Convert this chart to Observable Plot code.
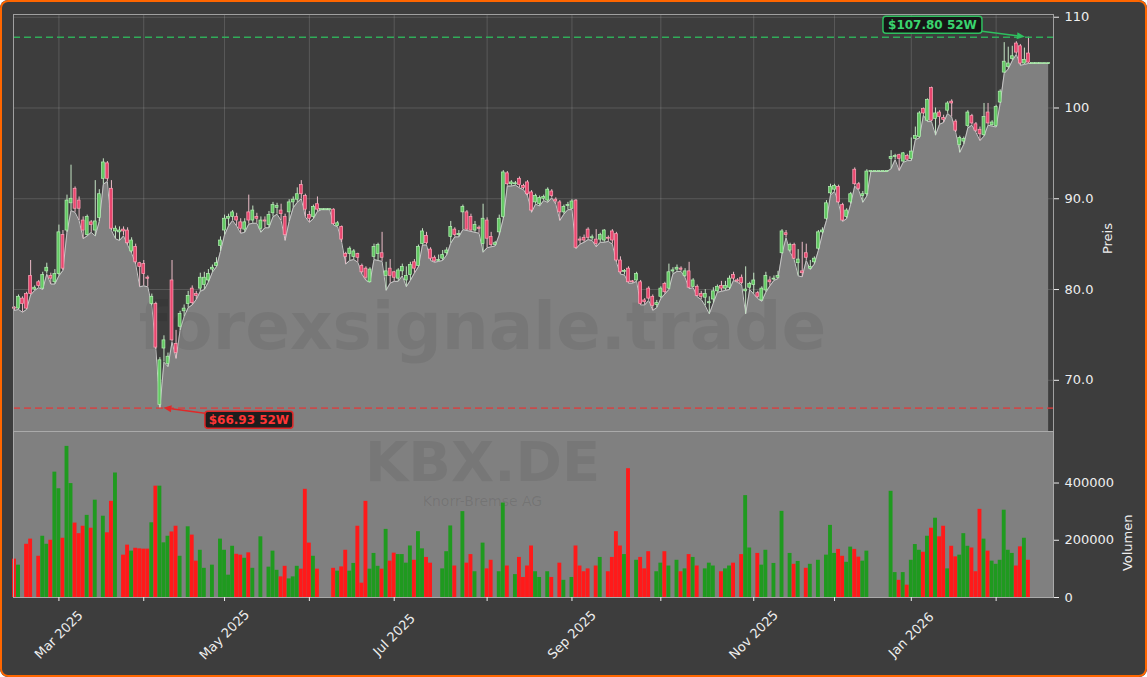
<!DOCTYPE html>
<html><head><meta charset="utf-8">
<script src="https://cdn.jsdelivr.net/npm/d3@7"></script>
<script src="https://cdn.jsdelivr.net/npm/@observablehq/plot@0.6"></script>
<style>
html,body{margin:0;padding:0;background:#ffffff;}
#card{position:relative;width:1147px;height:677px;background:#3d3d3d;border-radius:8px;overflow:hidden;font-family:"DejaVu Sans",sans-serif;}
#price,#vol{position:absolute;left:0;}
#price{top:0;} #vol{top:431px;}
#border{position:absolute;left:0;top:0;width:1147px;height:677px;box-sizing:border-box;border:2.5px solid #ff6600;border-radius:8px;pointer-events:none;}
svg{overflow:visible;}
</style></head>
<body><div id="card"><div id="price"></div><div id="vol"></div><div id="border"></div></div>
<script>
// ---------- data (one entry per trading day, starting 2025-02-14) ----------
const startDate = "2025-02-14";
const holidays = ["2025-04-18","2025-04-21","2025-05-01","2025-12-24","2025-12-25","2025-12-26","2025-12-31","2026-01-01"];

const opens = [78.0,77.9,79.0,79.5,81.5,80.0,80.8,80.1,82.0,81.5,
80.8,81.7,86.0,86.5,89.5,91.1,89.8,87.6,86.0,87.4,
86.5,87.9,92.2,93.9,91.1,86.4,86.3,86.6,86.5,84.2,
84.7,82.9,82.8,81.3,78.4,78.4,67.3,73.5,71.8,81.0,
74.0,75.9,77.6,78.4,80.1,79.5,80.1,80.5,81.0,82.2,
82.6,84.8,86.5,87.8,88.0,88.0,87.4,86.6,88.5,87.6,
88.0,86.7,87.6,87.1,88.4,89.0,88.7,88.0,88.5,89.6,
89.9,91.5,90.3,88.2,88.0,89.4,88.8,88.8,88.8,88.8,
87.0,86.9,83.9,83.9,83.6,83.9,82.6,82.3,80.8,83.6,
83.9,84.0,81.5,82.3,81.9,81.2,82.0,81.0,81.6,83.0,
82.6,85.0,85.9,84.4,83.5,83.2,83.4,84.0,85.8,86.6,
86.0,88.5,88.5,88.0,86.5,86.8,85.0,87.6,85.8,84.9,
86.3,88.0,92.8,91.6,91.6,92.2,91.4,91.8,90.7,89.6,
89.4,90.0,89.8,90.8,89.9,89.6,88.5,89.2,88.9,89.8,
85.5,85.7,86.6,85.7,85.5,85.5,85.4,85.7,86.4,86.1,
83.2,82.0,82.3,80.9,81.0,80.8,78.8,80.1,79.2,78.3,
79.2,80.6,80.1,82.0,82.2,82.3,81.5,82.0,80.3,80.3,
79.5,79.1,78.5,78.9,79.8,80.4,80.1,80.2,81.6,81.0,
81.3,79.8,80.2,80.5,79.6,78.8,79.9,81.0,81.1,81.3,
84.0,86.2,84.3,84.9,82.9,82.0,84.0,82.3,83.0,84.5,
86.3,87.8,90.6,91.0,91.3,89.3,88.0,89.6,93.2,91.6,
90.3,90.5,93.0,93.0,93.0,93.0,93.0,94.4,94.6,94.8,
94.1,94.7,94.4,96.6,96.8,99.9,98.6,102.2,98.8,99.5,
98.9,99.7,100.7,98.5,95.9,96.3,98.0,99.1,98.2,97.6,
97.0,99.5,98.1,98.0,100.6,103.9,104.5,105.4,107.1,106.8,
104.9,106.0,104.9,104.9,104.9,104.9,104.9];

const highs = [78.1,79.4,79.2,79.7,83.2,80.4,81.0,81.9,82.9,81.8,
82.2,87.1,86.5,90.4,93.7,91.3,90.2,88.0,88.2,87.6,
92.0,91.0,94.4,94.1,92.0,87.0,86.9,86.9,86.8,85.7,
85.0,83.0,83.2,81.5,79.5,78.6,72.5,74.9,73.0,83.2,
75.5,77.6,78.3,79.8,80.4,79.8,81.8,81.9,82.2,82.7,
83.5,85.8,88.2,88.3,88.7,88.4,87.8,87.8,90.4,89.2,
88.4,88.0,88.0,88.6,89.6,89.5,89.4,88.3,89.9,90.2,
91.2,92.0,90.5,88.6,89.3,90.2,88.8,88.8,88.8,88.9,
87.5,87.0,84.1,84.7,84.4,84.0,82.8,82.5,82.4,85.0,
85.1,86.3,83.0,83.3,82.0,82.3,82.8,82.5,83.0,83.3,
84.9,86.7,86.3,84.6,83.7,83.8,84.3,84.6,87.5,86.8,
86.5,89.3,88.7,88.3,87.5,87.0,89.4,87.9,86.3,85.3,
88.2,93.1,93.0,92.0,91.9,92.4,91.6,92.0,90.9,90.5,
90.3,90.4,91.2,91.0,90.1,89.8,89.3,89.6,89.9,89.9,
85.8,86.0,86.8,86.0,86.6,86.2,86.6,85.9,86.6,86.3,
83.6,82.2,82.5,81.0,81.9,81.0,79.0,80.3,79.4,78.8,
80.3,80.8,82.8,82.4,82.7,82.5,82.3,83.0,81.2,80.5,
79.8,80.0,79.2,80.2,80.5,80.9,80.9,81.5,81.9,81.2,
81.6,82.5,80.8,81.8,79.8,80.3,81.9,81.4,81.5,82.0,
86.6,86.5,85.1,85.1,84.4,85.2,85.0,83.2,83.6,86.5,
86.8,89.8,91.6,91.6,91.5,89.5,88.9,90.7,93.4,91.8,
90.8,93.2,93.0,93.0,93.0,93.0,93.0,95.3,94.9,94.9,
95.1,94.9,96.7,97.9,99.6,100.0,101.0,102.3,100.0,99.7,
99.2,100.7,100.9,98.7,96.9,96.8,99.7,99.3,98.4,97.9,
100.5,100.5,98.6,100.3,102.0,107.2,106.7,106.8,107.3,107.0,
106.6,107.8,104.9,104.9,104.9,104.9,104.9];

const lows = [77.7,77.8,77.5,77.8,79.4,79.9,80.2,80.0,81.7,80.6,
80.6,81.5,82.1,86.3,88.7,88.5,87.6,85.6,85.9,86.3,
85.9,87.5,91.6,91.9,86.5,85.6,85.4,85.9,84.9,84.0,
82.8,80.3,80.4,80.3,78.2,73.4,66.93,72.0,71.5,74.2,
72.4,75.5,77.0,78.0,78.3,78.9,79.8,80.0,80.8,81.9,
82.5,84.2,86.0,87.0,87.6,87.0,86.2,86.3,87.2,87.3,
87.3,86.3,86.8,86.8,88.0,88.3,87.6,85.4,87.5,89.0,
89.6,90.0,88.0,87.4,87.8,88.6,88.8,88.8,88.8,87.1,
86.9,85.2,82.8,83.2,83.3,83.0,81.7,81.0,80.8,83.3,
83.2,83.1,79.9,80.7,80.9,80.9,81.5,80.3,81.0,81.8,
82.5,84.9,84.9,83.2,83.0,83.1,83.2,83.8,85.1,85.8,
85.8,86.6,86.5,86.4,86.3,86.2,84.1,84.6,84.7,84.8,
86.0,87.8,91.4,91.4,91.5,91.2,91.0,90.3,88.5,89.4,
89.2,89.8,89.6,90.1,89.4,87.6,88.3,88.8,88.8,84.5,
85.0,85.2,85.5,85.4,84.7,85.2,85.2,85.3,85.0,83.0,
81.7,81.6,80.7,80.7,80.9,78.3,78.3,78.8,77.7,78.0,
79.0,79.5,80.0,81.7,82.0,82.0,81.3,80.1,80.2,79.2,
78.9,78.2,77.3,78.5,79.7,79.8,79.9,80.0,81.0,80.8,
80.5,77.3,80.0,79.5,79.0,78.7,79.7,80.4,81.0,81.2,
83.9,85.7,84.1,83.3,81.5,81.4,83.2,82.2,82.8,84.3,
86.1,87.6,90.4,90.8,89.5,87.5,87.8,89.4,91.4,90.9,
89.6,90.3,93.0,93.0,93.0,93.0,93.0,93.3,94.3,93.1,
94.0,94.2,94.2,96.5,96.7,99.2,98.5,98.5,97.0,98.2,
98.4,99.4,99.0,97.3,95.1,96.0,97.8,98.1,97.3,96.4,
96.9,98.1,98.0,97.9,100.5,103.8,104.3,105.2,105.9,104.7,
104.8,104.9,104.9,104.9,104.9,104.9,104.9];

const closes = [77.9,79.2,78.4,77.9,79.5,80.2,80.4,81.6,82.4,81.2,
81.7,86.3,82.3,89.8,90.0,88.9,88.9,86.5,88.0,87.1,
87.5,90.5,94.0,92.2,86.7,86.7,86.5,86.4,85.1,85.4,
83.0,82.5,81.7,81.2,79.2,73.6,72.2,74.4,72.6,74.4,
73.0,77.3,77.9,79.3,78.5,79.3,81.3,81.3,81.7,82.4,
82.9,85.4,87.8,88.0,88.5,87.6,86.7,87.4,87.6,88.7,
87.8,87.6,87.5,88.2,89.3,89.2,88.3,86.0,89.6,89.9,
90.5,90.5,88.8,87.8,89.1,88.8,88.8,88.8,88.8,87.2,
87.3,85.5,83.6,84.5,84.2,83.5,81.9,81.3,82.2,84.7,
84.9,83.5,82.0,81.5,81.3,82.1,82.5,81.5,82.7,82.3,
84.7,86.4,85.1,83.4,83.1,83.2,83.8,84.3,86.9,86.0,
86.1,89.1,86.6,86.5,87.1,86.7,87.8,85.6,84.9,85.1,
87.8,92.9,91.6,91.8,91.7,91.5,91.2,90.5,88.7,90.3,
90.1,90.2,91.0,90.3,89.7,88.5,89.1,89.3,89.7,84.6,
85.4,85.4,85.7,85.7,85.0,86.0,86.5,85.6,85.4,83.2,
81.9,82.0,80.8,80.8,81.7,78.4,78.6,79.0,78.2,78.5,
80.1,79.7,81.9,82.1,82.4,82.2,82.0,80.2,81.0,79.3,
79.2,79.5,78.6,79.8,80.3,80.1,80.4,81.2,81.2,80.9,
80.7,80.0,80.6,81.0,79.2,80.1,81.5,80.8,81.2,81.5,
86.4,86.0,84.9,83.4,83.3,81.8,83.5,82.5,83.4,86.3,
86.5,89.5,91.3,91.4,89.6,87.6,88.7,90.5,91.6,91.1,
90.5,93.0,93.0,93.0,93.0,93.0,93.0,94.6,94.7,94.4,
95.0,94.3,95.2,96.9,99.4,99.4,100.9,98.6,99.4,99.0,
98.7,100.5,100.5,97.5,96.7,96.6,99.5,98.3,97.5,97.1,
99.0,98.3,98.4,100.1,101.8,105.1,104.9,105.7,106.1,104.9,
105.3,105.0,104.9,104.9,104.9,104.9,104.9];

const volumes = [134000,113000,0,186000,204000,0,144000,214000,186000,200000,
438000,380000,207000,528000,398000,260000,223000,249000,287000,242000,
340000,0,284000,226000,336000,435000,0,148000,183000,162000,
172000,170000,169000,169000,261000,389000,389000,191000,214000,229000,
249000,144000,0,247000,218000,127000,165000,102000,0,113000,
0,204000,165000,78000,179000,151000,148000,137000,156000,102000,
0,212000,0,106000,162000,95000,72000,109000,65000,72000,
109000,99000,378000,190000,144000,99000,0,0,0,102000,
92000,107000,165000,92000,119000,249000,50000,336000,99000,154000,
109000,99000,238000,127000,155000,150000,150000,120000,180000,130000,
230000,170000,140000,120000,0,0,100000,160000,250000,110000,
0,300000,120000,150000,90000,0,190000,100000,130000,0,
90000,330000,110000,0,80000,140000,70000,110000,180000,90000,
70000,0,90000,70000,0,120000,60000,0,70000,180000,
110000,90000,100000,0,110000,140000,0,90000,140000,230000,
180000,150000,450000,0,130000,140000,100000,160000,0,90000,
120000,160000,110000,0,130000,90000,100000,150000,140000,110000,
0,100000,120000,110000,0,90000,100000,110000,120000,0,
150000,356000,173000,0,154000,113000,165000,0,119000,0,
301000,0,154000,116000,126000,0,102000,116000,0,130000,
0,148000,252000,154000,168000,144000,123000,176000,168000,141000,
127000,162000,0,0,0,0,0,371000,87000,60000,
87000,43000,130000,185000,165000,158000,214000,242000,277000,212000,
249000,100000,179000,142000,148000,223000,179000,173000,90000,308000,
204000,162000,127000,116000,130000,305000,165000,154000,110000,177000,
207000,130000,0,0,0,0,0];

const priceTicks = [70, 80, 90, 100, 110];
const priceTickLabels = ["70.0", "80.0", "90.0", "100", "110"];
const volumeTicks = [0, 200000, 400000];
const high52 = {value: 107.80, label: "$107.80 52W"};
const low52 = {value: 66.93, label: "$66.93 52W"};
const watermark = "forexsignale.trade";
const ticker = "KBX.DE";
const company = "Knorr-Bremse AG";

// ---------- derived ----------
const N = opens.length;
function tradingDays(start, n) {
  const d = new Date(start + "T00:00:00Z"); const out = [];
  while (out.length < n) {
    const wd = d.getUTCDay(), iso = d.toISOString().slice(0, 10);
    if (wd !== 0 && wd !== 6 && !holidays.includes(iso)) out.push(new Date(d));
    d.setUTCDate(d.getUTCDate() + 1);
  }
  return out;
}
const dates = tradingDays(startDate, N);
const rows = d3.range(N).map(i => ({i, date: dates[i], open: opens[i], high: highs[i], low: lows[i], close: closes[i], vol: volumes[i], up: closes[i] >= opens[i]}));
const monthStarts = rows.filter((d, k) => k > 0 && d.date.getUTCMonth() !== rows[k - 1].date.getUTCMonth());
const monthIdx = monthStarts.map(d => d.i);
const fmt = d3.utcFormat("%b %Y");
const monthLabels = monthStarts.filter(d => d.date.getUTCMonth() % 2 === 0).map(d => ({i: d.i, label: fmt(d.date)}));
const hiIdx = rows.reduce((a, b) => (b.high > a.high ? b : a)).i;
const loIdx = rows.reduce((a, b) => (b.low < a.low ? b : a)).i;

const xDomain = [-0.24, 257.2];
const yDomain = [64.36, 110.30];
const textColor = "#eeeeee";
const upBody = "#62c862", upEdge = "#b4f0b4", upWick = "#c4e4c4";
const dnBody = "#e8466e", dnEdge = "#ffa4b8", dnWick = "#ecbcc8";
const volUp = "#1f9a1f", volDn = "#ff1a1a";

const bodyLo = d => (Math.abs(d.close - d.open) < 0.1 ? (d.open + d.close) / 2 - 0.06 : Math.min(d.open, d.close));
const bodyHi = d => (Math.abs(d.close - d.open) < 0.1 ? (d.open + d.close) / 2 + 0.06 : Math.max(d.open, d.close));

const style = {background: "transparent", color: textColor, fontFamily: "DejaVu Sans, sans-serif", fontSize: "13px", overflow: "visible"};

const pricePlot = Plot.plot({
  width: 1147, height: 431,
  marginLeft: 13, marginRight: 94, marginTop: 14, marginBottom: 0,
  style,
  x: {type: "linear", domain: xDomain, axis: null},
  y: {domain: yDomain, axis: null},
  marks: [
    Plot.gridY(priceTicks, {stroke: "#ffffff", strokeOpacity: 0.15}),
    Plot.gridX(monthIdx, {stroke: "#ffffff", strokeOpacity: 0.15}),
    Plot.areaY(rows, {x: "i", y1: () => yDomain[0], y2: "low", fill: "#808080"}),
    Plot.lineY(rows, {x: "i", y: "low", stroke: "#c6c6c6", strokeWidth: 1}),
    Plot.text([watermark], {frameAnchor: "middle", dx: -51, dy: 105, fontSize: 66, fontWeight: "bold", fill: "#000", fillOpacity: 0.07, lineAnchor: "middle"}),
    Plot.ruleX(rows, {x: "i", y1: "low", y2: "high", stroke: d => (d.up ? upWick : dnWick), strokeWidth: 1}),
    Plot.rect(rows, {x1: d => d.i - 0.36, x2: d => d.i + 0.36, y1: bodyLo, y2: bodyHi, fill: d => (d.up ? upBody : dnBody), stroke: d => (d.up ? upEdge : dnEdge), strokeWidth: 0.7}),
    Plot.ruleY([high52.value], {stroke: "#2fb85c", strokeOpacity: 0.9, strokeWidth: 1.6, strokeDasharray: "7,4"}),
    Plot.ruleY([low52.value], {stroke: "#e03a3a", strokeOpacity: 0.75, strokeWidth: 1.6, strokeDasharray: "7,4"}),
    Plot.frame({stroke: "#a0a0a0"}),
    Plot.axisY(priceTicks, {anchor: "right", tickSize: 5, tickPadding: 6, fontSize: 13, label: null, tickFormat: d => priceTickLabels[priceTicks.indexOf(d)]}),
    Plot.text(["Preis"], {frameAnchor: "right", dx: 54, rotate: -90, fontSize: 13, fill: textColor})
  ]
});

const volPlot = Plot.plot({
  width: 1147, height: 246,
  marginLeft: 13, marginRight: 94, marginTop: 0, marginBottom: 80,
  style,
  x: {type: "linear", domain: xDomain, axis: null},
  y: {domain: [0, 580000], axis: null},
  marks: [
    Plot.frame({fill: "#808080"}),
    Plot.text([ticker], {frameAnchor: "middle", dx: -51, dy: -51, fontSize: 56, fontWeight: "bold", fill: "#000", fillOpacity: 0.07, lineAnchor: "middle"}),
    Plot.text([company], {frameAnchor: "middle", dx: -51, dy: -13, fontSize: 14, fill: "#000", fillOpacity: 0.1, lineAnchor: "middle"}),
    Plot.rect(rows.filter(d => d.vol > 0), {x1: d => d.i - 0.48, x2: d => d.i + 0.48, y1: () => 0, y2: "vol", fill: d => (d.up ? volUp : volDn)}),
    Plot.frame({stroke: "#aaaaaa"}),
    Plot.axisY(volumeTicks, {anchor: "right", tickSize: 5, tickPadding: 6, fontSize: 13, label: null, tickFormat: d3.format("d")}),
    Plot.axisX(monthIdx, {anchor: "bottom", tickSize: 4, tickFormat: () => "", label: null}),
    Plot.text(monthLabels, {x: "i", y: () => 0, text: "label", dy: 37.5, rotate: -45, textAnchor: "middle", lineAnchor: "middle", fontSize: 13, fill: textColor}),
    Plot.text(["Volumen"], {frameAnchor: "right", dx: 74, rotate: -90, fontSize: 13, fill: textColor})
  ]
});

document.getElementById("price").appendChild(pricePlot);
document.getElementById("vol").appendChild(volPlot);

// ---------- 52W annotations (positions from the plot's scales) ----------
function annotate(plot, idx, val, cfg) {
  const px = plot.scale("x").apply(idx), py = plot.scale("y").apply(val);
  const g = d3.select(plot).append("g");
  const bx = px + cfg.boxDx, by = py + cfg.boxDy;
  g.append("rect").attr("x", bx).attr("y", by).attr("width", cfg.w).attr("height", 17).attr("rx", 3)
    .attr("fill", "#121212").attr("fill-opacity", 0.9).attr("stroke", cfg.edge).attr("stroke-width", 1.5);
  g.append("text").attr("x", bx + cfg.w / 2).attr("y", by + 8.5).attr("dy", "0.36em")
    .attr("text-anchor", "middle").attr("font-family", "DejaVu Sans, sans-serif").attr("font-weight", "bold")
    .attr("font-size", 12).attr("fill", cfg.text).text(cfg.label);
  const sx = cfg.fromRight ? bx + cfg.w : bx, sy = by + cfg.arrowY;
  const ex = px + cfg.tipDx, ey = py;
  const ang = Math.atan2(ey - sy, ex - sx), L = 8, W = 3.5;
  const bxp = ex - L * Math.cos(ang), byp = ey - L * Math.sin(ang);
  g.append("line").attr("x1", sx).attr("y1", sy).attr("x2", bxp).attr("y2", byp).attr("stroke", cfg.edge).attr("stroke-width", 1.6);
  g.append("path").attr("d", `M${ex},${ey}L${bxp - W * Math.sin(ang)},${byp + W * Math.cos(ang)}L${bxp + W * Math.sin(ang)},${byp - W * Math.cos(ang)}Z`).attr("fill", cfg.edge);
}
annotate(pricePlot, hiIdx, high52.value, {label: high52.label, boxDx: -145, boxDy: -20.5, w: 99, edge: "#2fbf5f", text: "#3ad46e", fromRight: true, arrowY: 15, tipDx: -3});
annotate(pricePlot, loIdx, low52.value, {label: low52.label, boxDx: 45.5, boxDy: 3.5, w: 88, edge: "#e02828", text: "#ff3535", fromRight: false, arrowY: 2, tipDx: 4});
</script>
</body></html>
